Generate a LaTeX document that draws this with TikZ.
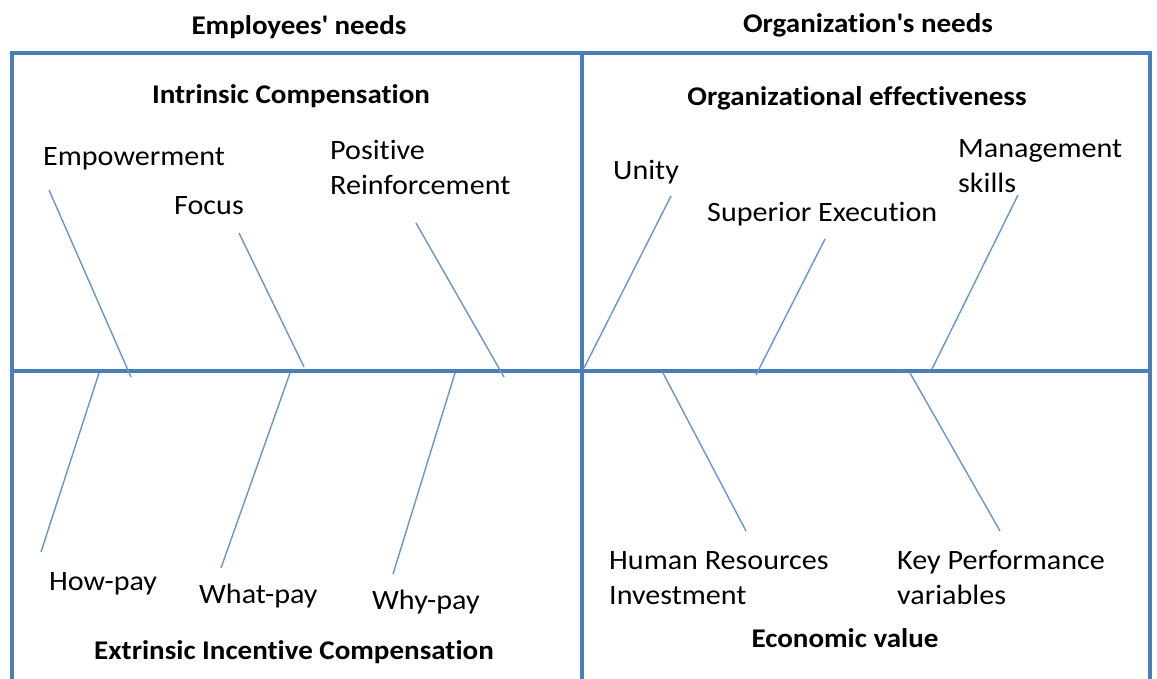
\documentclass[tikz,border=0pt]{standalone}
\usepackage{fontspec}
\setmainfont{Carlito}[FakeStretch=1.075,Ligatures={NoCommon}]
\begin{document}
\begin{tikzpicture}[x=1pt,y=-1pt,
  frame/.style={draw=framecol,line width=4pt},
  rib/.style={draw=ribcol,line width=1.4pt},
  lbl/.style={inner sep=0pt,anchor=base west,align=left,font=\fontsize{28}{35}\selectfont,text=black},
  head/.style={inner sep=0pt,anchor=base,font=\bfseries\fontsize{27}{32}\selectfont,text=black}]
\definecolor{framecol}{HTML}{4A7EBB}
\definecolor{ribcol}{HTML}{6A95CC}
\useasboundingbox (0,0) rectangle (1157,679);
\fill[white] (0,0) rectangle (1157,679);

% outer frame (open at the bottom) and the two axes
\draw[frame] (12,679) -- (12,53) -- (1150,53) -- (1150,679);
\draw[frame] (12,371) -- (1150,371);
\draw[frame] (582,53) -- (582,679);

% column headings
\node[head] (emp) at (299,35) {Employees\textquotesingle\ needs};
\node[head] (org) at (868,33) {Organization\textquotesingle s needs};

% quadrant headings
\node[head] (ic) at (291,104) {Intrinsic Compensation};
\node[head] (oe) at (857,106) {Organizational effectiveness};
\node[head] (eic) at (294,659) {Extrinsic Incentive Compensation};
\node[head] (ev) at (845,647) {Economic value};

% labels (multi-line ones are placed by their last baseline)
\node[lbl] (empw) at (43,166) {Empowerment};
\node[lbl] (focus) at (174,215) {Focus};
\node[lbl] (posr) at (330,195) {Positive\\Reinforcement};
\node[lbl] (unity) at (613,180) {Unity};
\node[lbl] (supx) at (707,222) {Superior Execution};
\node[lbl] (mgmt) at (958,193) {Management\\skills};
\node[lbl] (howp) at (49,590) {How-pay};
\node[lbl] (whatp) at (199,603) {What-pay};
\node[lbl] (whyp) at (372,609) {Why-pay};
\node[lbl] (hri) at (609,604) {Human Resources\\Investment};
\node[lbl] (kpv) at (897,604) {Key Performance\\variables};

% rib end points
\coordinate (a1) at (49,190);  \coordinate (a2) at (131,377);
\coordinate (b1) at (239,233); \coordinate (b2) at (304,367);
\coordinate (c1) at (416,223); \coordinate (c2) at (504,377);
\coordinate (d1) at (671,196); \coordinate (d2) at (584,368);
\coordinate (e1) at (825,239); \coordinate (e2) at (756,375);
\coordinate (f1) at (1018,195);\coordinate (f2) at (932,369);
\coordinate (g1) at (99,373);  \coordinate (g2) at (41,552);
\coordinate (h1) at (290,373); \coordinate (h2) at (221,568);
\coordinate (i1) at (455,373); \coordinate (i2) at (393,574);
\coordinate (j1) at (663,373); \coordinate (j2) at (746,531);
\coordinate (k1) at (910,373); \coordinate (k2) at (1000,531);

% ribs
\foreach \p in {a,b,c,d,e,f,g,h,i,j,k}
  \draw[rib] (\p1) -- (\p2);
\end{tikzpicture}
\end{document}
